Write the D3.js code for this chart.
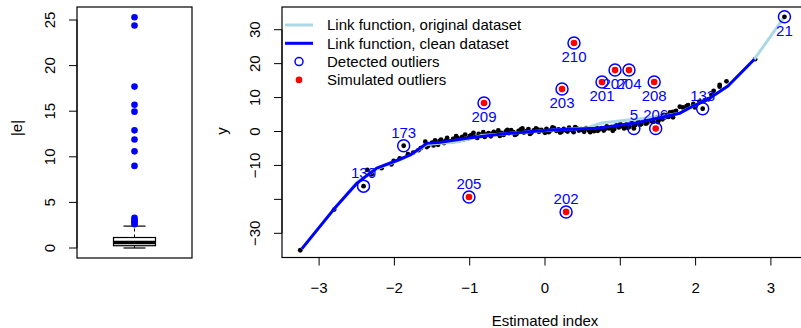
<!DOCTYPE html>
<html>
<head>
<meta charset="utf-8">
<script src="https://cdn.jsdelivr.net/npm/d3@7"></script>
<style>
  body { margin: 0; background: #fff; }
  text { font-family: "Liberation Sans", Arial, Helvetica, sans-serif; }
</style>
</head>
<body>
<svg id="chart" width="801" height="328"></svg>
<script>
// boxplot of |e| : [lower whisker, Q1, median, Q3, upper whisker]
var boxStats = [0, 0.25, 0.6, 1.15, 2.4];
var boxOutliers = [2.6, 2.75, 2.9, 3.1, 3.3, 9.0, 10.6, 11.9, 12.9, 14.95, 15.7, 17.7, 24.4, 25.3];
var boxTicks = [0, 5, 10, 15, 20, 25];

// observations (estimated index, y)
var obsX = [-3.25, -2.80, -2.36, -2.30, -2.17, -2.04, -2.01, -1.93, -1.82, -1.75, -1.68, -1.65, -1.59, -1.55, -1.50, -1.46,
  -1.42, -1.38, -1.34, -1.30, -1.26, -1.22, -1.18, -1.14, -1.10, -1.06, -1.02, -0.98, -0.95, -0.92, -0.88, -0.85,
  -0.82, -0.78, -0.75, -0.72, -0.68, -0.65, -0.62, -0.58, -0.55, -0.52, -0.48, -0.45, -0.42, -0.38, -0.35, -0.32,
  -0.28, -0.25, -0.22, -0.18, -0.15, -0.12, -0.08, -0.05, -0.02, 0.02, 0.05, 0.08, 0.12, 0.15, 0.18, 0.22, 0.25,
  0.28, 0.32, 0.35, 0.38, 0.42, 0.45, 0.48, 0.52, 0.55, 0.58, 0.62, 0.65, 0.68, 0.72, 0.75, 0.78, 0.82, 0.85, 0.88,
  0.92, 0.95, 0.98, 1.02, 1.05, 1.08, 1.12, 1.15, 1.20, 1.24, 1.28, 1.32, 1.36, 1.40, 1.44, 1.48, 1.52, 1.55, 1.58,
  1.62, 1.66, 1.70, 1.70, 1.74, 1.79, 1.83, 1.88, 1.90, 1.97, 1.99, 2.05, 2.12, 2.17, 2.21, 2.24, 2.32, 2.32, 2.41, 2.79,
  -1.57, -1.48, -1.40, -1.32, -1.24, -1.16, -1.08, -1.00, -0.90, -0.80, -0.70, -0.60, -0.50, -0.40, -0.30, -0.20,
  -0.10, 0.00, 0.10, 0.20, 0.30, 0.40, 0.50, 0.60, 0.70, 0.80, 0.90, 1.00, 1.10, 1.18, 1.26, 1.34, 1.42, 1.50, 1.56, 1.64];
var obsY = [-35.0, -23.0, -11.3, -12.6, -10.8, -9.7, -8.7, -7.9, -6.7, -6.2, -5.5, -4.9, -3.0, -4.2, -3.3, -2.6,
  -3.9, -2.4, -3.4, -1.9, -2.9, -2.2, -1.4, -2.5, -1.6, -0.9, -2.0, -1.1, -0.4, -1.6, -0.7, -1.3,
  -0.2, -0.9, -0.5, -1.4, -0.1, -0.7, 0.3, -0.4, -1.0, 0.0, -0.5, 0.4, -0.2, -0.8, 0.2, 0.6,
  -0.3, 0.1, 0.7, -0.4, 0.3, 0.9, -0.1, 0.5, 0.1, 0.8, -0.2, 0.4, 1.0, 0.2, 0.6, -0.1, 0.8,
  0.3, 1.1, 0.5, -0.2, 0.9, 0.3, 0.7, -0.1, 1.0, 0.4, 0.8, 0.1, 1.3, 0.6, 1.0, 0.3, 1.5, 0.9, 1.3,
  0.7, 1.8, 1.2, 1.6, 0.9, 2.0, 1.4, 2.5, 1.9, 2.8, 2.2, 3.2, 2.6, 3.6, 2.9, 4.0, 3.5, 4.4, 4.9,
  4.9, 5.6, 4.2, 5.8, 6.1, 7.3, 7.1, 7.5, 7.8, 8.1, 7.1, 8.8, 9.2, 9.5, 10.8, 12.0, 13.2, 13.7, 14.8, 21.3,
  -4.6, -4.1, -2.8, -2.7, -3.0, -1.9, -2.3, -1.4, -1.9, -1.6, -0.6, -1.3, 0.5, -1.0, 0.9, -0.7,
  0.6, -0.4, 1.2, -0.3, 0.0, 1.3, 0.4, -0.2, 0.2, 0.8, 0.2, 2.2, 1.1, 1.5, 2.0, 2.3, 3.0, 2.8, 3.6, 4.3];

// link functions
var origX = [-3.23, -2.80, -2.50, -2.235, -1.95, -1.79, -1.57, -1.39, -1.20, -1.04, -0.85, -0.60, 0.07, 0.55, 0.75, 1.10, 1.50, 1.79, 1.95, 2.15, 2.43, 2.78, 3.18];
var origY = [-34.6, -22.8, -15.0, -11.0, -8.6, -7.0, -3.8, -3.5, -3.2, -2.4, -1.2, -0.8, 0.4, 1.0, 2.5, 3.4, 4.3, 5.4, 7.3, 9.3, 13.4, 21.3, 33.8];
var cleanX = [-3.23, -2.80, -2.50, -2.235, -1.95, -1.79, -1.66, -1.57, -1.39, -1.04, -0.60, 0.07, 0.69, 1.17, 1.39, 1.79, 1.95, 2.15, 2.43, 2.78];
var cleanY = [-34.6, -22.8, -15.3, -10.8, -8.4, -6.9, -4.95, -3.5, -3.2, -2.0, -0.8, 0.44, 0.94, 2.4, 3.4, 5.4, 7.3, 9.3, 13.4, 21.3];

// detected outliers (circled); simulated ones are 201..210
var outId = ["21", "130", "173", "5", "133", "201", "207", "203", "204", "205", "206", "202", "208", "209", "210"];
var outX = [3.18, -2.41, -1.877, 1.18, 2.094, 0.757, 0.93, 0.226, 1.115, -1.01, 1.47, 0.28, 1.45, -0.81, 0.385];
var outY = [33.8, -16.1, -4.2, 0.9, 6.7, 14.6, 18.1, 12.5, 18.1, -19.3, 0.9, -23.7, 14.6, 8.4, 26.1];
var simulated = ["201", "202", "203", "204", "205", "206", "207", "208", "209", "210"];

var xTicks = [-3, -2, -1, 0, 1, 2, 3];
var yTicks = [-30, -20, -10, 0, 10, 20, 30];
var yTickLabels = ["\u221230", "", "\u221210", "0", "10", "20", "30"];

var legendLabels = ["Link function, original dataset", "Link function, clean dataset", "Detected outliers", "Simulated outliers"];

var svg = d3.select("#chart");
var fs = 15;

function minus(v) { return String(v).replace("-", "\u2212"); }

// ---------- left panel: boxplot ----------
var lb = {left: 77, right: 192, top: 7, bottom: 258};
var yl = d3.scaleLinear().domain([0, 25]).range([248, 20]);
var cx = (lb.left + lb.right) / 2;
var left = svg.append("g");

left.append("rect")
    .attr("x", lb.left).attr("y", lb.top)
    .attr("width", lb.right - lb.left).attr("height", lb.bottom - lb.top)
    .attr("fill", "none").attr("stroke", "#000").attr("stroke-width", 1.2);

// whiskers
[[boxStats[0], boxStats[1]], [boxStats[3], boxStats[4]]].forEach(function (w) {
  left.append("line")
      .attr("x1", cx).attr("x2", cx)
      .attr("y1", yl(w[0])).attr("y2", yl(w[1]))
      .attr("stroke", "#000").attr("stroke-dasharray", "3,3");
});
[boxStats[0], boxStats[4]].forEach(function (v) {
  left.append("line")
      .attr("x1", cx - 11).attr("x2", cx + 11)
      .attr("y1", yl(v)).attr("y2", yl(v))
      .attr("stroke", "#000").attr("stroke-width", 1.2);
});
left.append("rect")
    .attr("x", cx - 21).attr("width", 42)
    .attr("y", yl(boxStats[3])).attr("height", yl(boxStats[1]) - yl(boxStats[3]))
    .attr("fill", "none").attr("stroke", "#000").attr("stroke-width", 1.2);
left.append("line")
    .attr("x1", cx - 21).attr("x2", cx + 21)
    .attr("y1", yl(boxStats[2])).attr("y2", yl(boxStats[2]))
    .attr("stroke", "#000").attr("stroke-width", 3.5);

left.selectAll("circle.out")
    .data(boxOutliers)
  .enter().append("circle")
    .attr("cx", cx).attr("cy", function (d) { return yl(d); })
    .attr("r", 3.3).attr("fill", "blue");

var lAxis = left.append("g").attr("transform", "translate(" + lb.left + ",0)");
lAxis.append("line")
    .attr("x1", 0).attr("x2", 0)
    .attr("y1", yl(0)).attr("y2", yl(25)).attr("stroke", "#000");
lAxis.selectAll("line.tk")
    .data(boxTicks)
  .enter().append("line")
    .attr("x1", -8).attr("x2", 0)
    .attr("y1", function (d) { return yl(d); }).attr("y2", function (d) { return yl(d); })
    .attr("stroke", "#000");
lAxis.selectAll("text")
    .data(boxTicks)
  .enter().append("text")
    .attr("transform", function (d) { return "translate(-27," + yl(d) + ") rotate(-90)"; })
    .attr("text-anchor", "middle").attr("dy", "0.35em")
    .attr("font-size", fs).text(function (d) { return d; });
left.append("text")
    .attr("transform", "translate(17,128) rotate(-90)")
    .attr("text-anchor", "middle").attr("dy", "0.35em")
    .attr("font-size", fs).text("|e|");

// ---------- right panel: scatter ----------
var x = d3.scaleLinear().domain([-3, 3]).range([319.1, 770.9]);
var y = d3.scaleLinear().domain([-30, 30]).range([233.3, 29.7]);
var rb = {left: 282, right: 803, top: 7, bottom: 257.5};
var right = svg.append("g");

right.append("rect")
    .attr("x", rb.left).attr("y", rb.top)
    .attr("width", rb.right - rb.left).attr("height", rb.bottom - rb.top)
    .attr("fill", "none").attr("stroke", "#000").attr("stroke-width", 1.2);

// x axis
var xa = right.append("g").attr("transform", "translate(0," + rb.bottom + ")");
xa.append("line").attr("x1", x(-3)).attr("x2", x(3)).attr("stroke", "#000");
xa.selectAll("line.tk").data(xTicks).enter().append("line")
    .attr("x1", function (d) { return x(d); }).attr("x2", function (d) { return x(d); })
    .attr("y1", 0).attr("y2", 8).attr("stroke", "#000");
xa.selectAll("text").data(xTicks).enter().append("text")
    .attr("x", function (d) { return x(d); }).attr("y", 30)
    .attr("text-anchor", "middle").attr("dy", "0.35em")
    .attr("font-size", fs).text(function (d) { return minus(d); });
right.append("text")
    .attr("x", x(0)).attr("y", 321).attr("dy", "0.35em")
    .attr("text-anchor", "middle").attr("font-size", fs).text("Estimated index");

// y axis
var ya = right.append("g").attr("transform", "translate(" + rb.left + ",0)");
ya.append("line").attr("y1", y(-30)).attr("y2", y(30)).attr("stroke", "#000");
ya.selectAll("line.tk").data(yTicks).enter().append("line")
    .attr("y1", function (d) { return y(d); }).attr("y2", function (d) { return y(d); })
    .attr("x1", -8).attr("x2", 0).attr("stroke", "#000");
ya.selectAll("text").data(yTicks).enter().append("text")
    .attr("transform", function (d) { return "translate(-27," + y(d) + ") rotate(-90)"; })
    .attr("text-anchor", "middle").attr("dy", "0.35em")
    .attr("font-size", fs).text(function (d, i) { return yTickLabels[i]; });
right.append("text")
    .attr("transform", "translate(222,131) rotate(-90)")
    .attr("text-anchor", "middle").attr("dy", "0.35em")
    .attr("font-size", fs).text("y");

// clip plot region
svg.append("defs").append("clipPath").attr("id", "clip")
  .append("rect").attr("x", rb.left).attr("y", rb.top)
  .attr("width", rb.right - rb.left).attr("height", rb.bottom - rb.top);
var plot = right.append("g").attr("clip-path", "url(#clip)");

var line = d3.line().x(function (d) { return x(d[0]); }).y(function (d) { return y(d[1]); });
var origPts = origX.map(function (v, i) { return [v, origY[i]]; });
var cleanPts = cleanX.map(function (v, i) { return [v, cleanY[i]]; });

var obs = obsX.map(function (v, i) { return [v, obsY[i]]; });
plot.selectAll("circle.obs").data(obs).enter().append("circle")
    .attr("cx", function (d) { return x(d[0]); }).attr("cy", function (d) { return y(d[1]); })
    .attr("r", 2.4).attr("fill", "#000");

plot.append("path").datum(origPts).attr("d", line)
    .attr("fill", "none").attr("stroke", "lightblue").attr("stroke-width", 3)
    .attr("stroke-linejoin", "round");
plot.append("path").datum(cleanPts).attr("d", line)
    .attr("fill", "none").attr("stroke", "blue").attr("stroke-width", 3)
    .attr("stroke-linejoin", "round");

// clean link value, clamped at ends; labels of points far above it go below
function cleanAt(v) {
  if (v <= cleanX[0]) return cleanY[0];
  if (v >= cleanX[cleanX.length - 1]) return cleanY[cleanY.length - 1];
  var i = d3.bisectRight(cleanX, v) - 1;
  var t = (v - cleanX[i]) / (cleanX[i + 1] - cleanX[i]);
  return cleanY[i] + t * (cleanY[i + 1] - cleanY[i]);
}

var outs = outId.map(function (id, i) {
  return {id: id, x: outX[i], y: outY[i], sim: simulated.indexOf(id) >= 0};
});
var og = plot.selectAll("g.out").data(outs).enter().append("g")
    .attr("transform", function (d) { return "translate(" + x(d.x) + "," + y(d.y) + ")"; });
og.append("circle")
    .attr("r", function (d) { return d.sim ? 3.3 : 2.4; })
    .attr("fill", function (d) { return d.sim ? "red" : "#000"; });
og.append("circle")
    .attr("r", 6).attr("fill", "none").attr("stroke", "blue").attr("stroke-width", 1.5);
og.append("text")
    .attr("y", function (d) { return d.y - cleanAt(d.x) > 5 ? 13.5 : -13.5; })
    .attr("dy", "0.35em").attr("text-anchor", "middle")
    .attr("font-size", fs).attr("fill", "blue")
    .text(function (d) { return d.id; });

// legend
var lg = right.append("g").attr("transform", "translate(285,25)");
var rowH = 18.3;
lg.selectAll("text").data(legendLabels).enter().append("text")
    .attr("x", 42).attr("y", function (d, i) { return i * rowH; })
    .attr("dy", "0.35em").attr("font-size", fs).text(function (d) { return d; });
lg.append("line").attr("x1", 0).attr("x2", 28).attr("y1", 0).attr("y2", 0)
    .attr("stroke", "lightblue").attr("stroke-width", 3);
lg.append("line").attr("x1", 0).attr("x2", 28).attr("y1", rowH).attr("y2", rowH)
    .attr("stroke", "blue").attr("stroke-width", 3);
lg.append("circle").attr("cx", 14).attr("cy", 2 * rowH).attr("r", 4)
    .attr("fill", "none").attr("stroke", "blue").attr("stroke-width", 1.5);
lg.append("circle").attr("cx", 14).attr("cy", 3 * rowH).attr("r", 3.3).attr("fill", "red");
</script>
</body>
</html>
